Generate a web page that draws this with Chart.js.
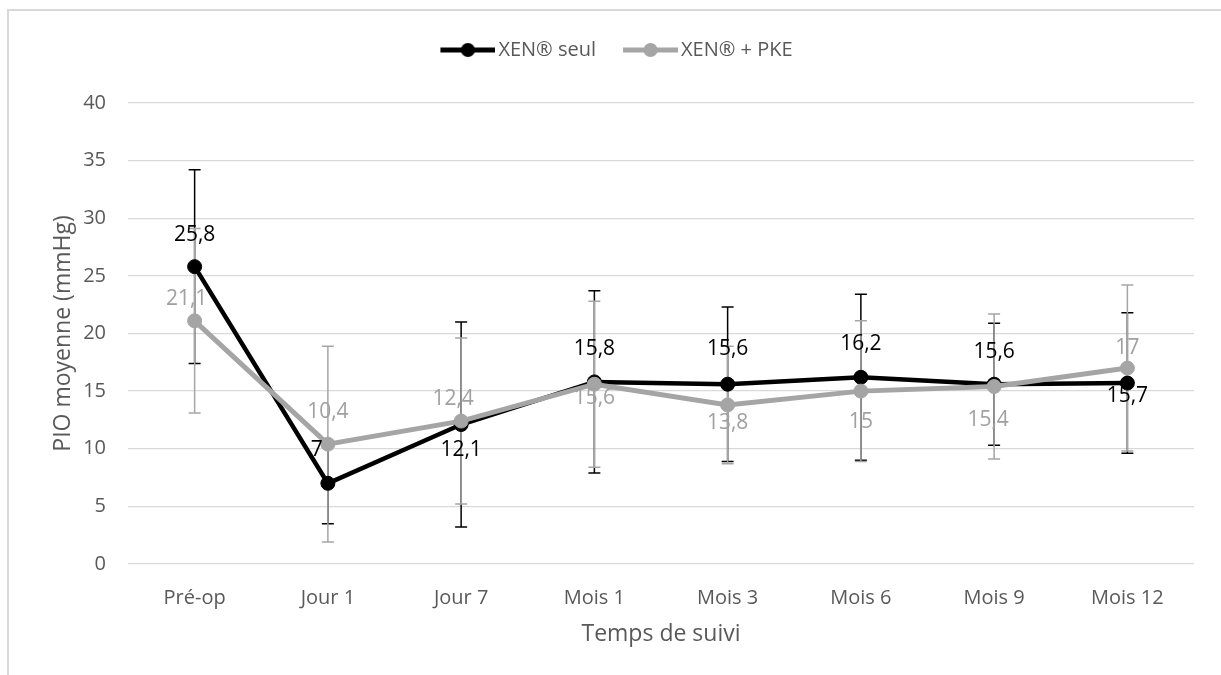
<!DOCTYPE html>
<html>
  <head>
    <meta charset="utf-8" />
    <title>PIO moyenne</title>
    <style>
      body { margin: 0; background: #fff; }
      #wrap { position: relative; width: 1221px; height: 675px; overflow: hidden; }
      #frame { position: absolute; left: 7px; top: 9px; width: 1300px; height: 800px; border: 2px solid #d9d9d9; box-sizing: border-box; }
      canvas { position: absolute; left: 0; top: 0; }
    </style>
  </head>
  <body>
    <div id="wrap">
      <div id="frame"></div>
      <canvas id="chart" width="1221" height="675"></canvas>
    </div>
    <script src="https://cdn.jsdelivr.net/npm/chart.js@4.4.0/dist/chart.umd.min.js"></script>
    <script>
      const labels = ["Pré-op", "Jour 1", "Jour 7", "Mois 1", "Mois 3", "Mois 6", "Mois 9", "Mois 12"];
      const xenSeul = [25.8, 7, 12.1, 15.8, 15.6, 16.2, 15.6, 15.7];
      const xenSeulSd = [8.4, 3.5, 8.9, 7.9, 6.7, 7.2, 5.3, 6.1];
      const xenPke = [21.1, 10.4, 12.4, 15.6, 13.8, 15, 15.4, 17];
      const xenPkeSd = [8, 8.5, 7.2, 7.2, 5.1, 6.1, 6.3, 7.2];
      const yTicks = [0, 5, 10, 15, 20, 25, 30, 35, 40];

      // where each value label sits relative to its point (dx, dy)
      const seulLabelShift = [[0, -32], [-11, -33], [0, 25], [0, -33], [0, -35], [0, -33], [0, -32], [0, 13]];
      const pkeLabelShift = [[-8, -22], [0, -32], [-8, -22], [0, 14], [0, 18], [0, 31], [-6, 34], [0, -20]];

      const BLACK = "#000000";
      const GREY = "#a5a5a5";
      const FONT = "'Open Sans', sans-serif";

      // line + marker swatch for the legend
      function legendSwatch(color) {
        const c = document.createElement("canvas");
        c.width = 74;
        c.height = 16;
        const g = c.getContext("2d");
        g.strokeStyle = color;
        g.lineWidth = 5;
        g.beginPath();
        g.moveTo(19, 8);
        g.lineTo(74, 8);
        g.stroke();
        g.fillStyle = color;
        g.beginPath();
        g.arc(46.5, 8, 7, 0, Math.PI * 2);
        g.fill();
        return c;
      }
      const swatches = [legendSwatch(BLACK), legendSwatch(GREY)];
      const sds = [xenSeulSd, xenPkeSd];
      const shifts = [seulLabelShift, pkeLabelShift];
      const labelColors = ["#000000", "#a0a0a0"];

      const errorBars = {
        id: "errorBars",
        beforeDatasetsDraw(chart) {
          const ctx = chart.ctx;
          const y = chart.scales.y;
          chart.data.datasets.forEach((ds, i) => {
            const meta = chart.getDatasetMeta(i);
            ctx.save();
            ctx.strokeStyle = ds.borderColor;
            ctx.lineWidth = 1.5;
            meta.data.forEach((pt, j) => {
              const v = ds.data[j];
              const top = y.getPixelForValue(v + sds[i][j]);
              const bot = y.getPixelForValue(v - sds[i][j]);
              ctx.beginPath();
              ctx.moveTo(pt.x, top);
              ctx.lineTo(pt.x, bot);
              ctx.moveTo(pt.x - 6, top);
              ctx.lineTo(pt.x + 6, top);
              ctx.moveTo(pt.x - 6, bot);
              ctx.lineTo(pt.x + 6, bot);
              ctx.stroke();
            });
            ctx.restore();
          });
        },
      };

      const valueLabels = {
        id: "valueLabels",
        afterDatasetsDraw(chart) {
          const ctx = chart.ctx;
          ctx.save();
          ctx.font = "21px " + FONT;
          ctx.textAlign = "center";
          ctx.textBaseline = "middle";
          chart.data.datasets.forEach((ds, i) => {
            const meta = chart.getDatasetMeta(i);
            ctx.fillStyle = labelColors[i];
            meta.data.forEach((pt, j) => {
              const s = shifts[i][j];
              ctx.fillText(String(ds.data[j]).replace(".", ","), pt.x + s[0], pt.y + s[1]);
            });
          });
          ctx.restore();
        },
      };

      const ctx = document.getElementById("chart").getContext("2d");
      const myChart = new Chart(ctx, {
        type: "line",
        data: {
          labels: labels,
          datasets: [
            {
              label: "XEN® seul",
              data: xenSeul,
              borderColor: BLACK,
              backgroundColor: BLACK,
              borderWidth: 4.5,
              pointRadius: 7,
              pointBorderWidth: 1,
              order: 1,
            },
            {
              label: "XEN® + PKE",
              data: xenPke,
              borderColor: GREY,
              backgroundColor: GREY,
              borderWidth: 5,
              pointRadius: 7,
              pointBorderWidth: 1,
              order: 0,
            },
          ],
        },
        options: {
          responsive: false,
          animation: false,
          layout: { padding: { top: 25, right: 0, left: 0, bottom: 0 } },
          plugins: {
            tooltip: { enabled: false },
            legend: {
              position: "top",
              labels: {
                usePointStyle: true,
                pointStyleWidth: 60,
                padding: 15,
                color: "#595959",
                font: { family: FONT, size: 20 },
                generateLabels(chart) {
                  return chart.data.datasets.map((ds, i) => ({
                    text: ds.label,
                    pointStyle: swatches[i],
                    fontColor: "#595959",
                    datasetIndex: i,
                    lineWidth: 0,
                  }));
                },
              },
            },
          },
          scales: {
            x: {
              offset: true,
              grid: { display: false },
              border: { display: false },
              ticks: { color: "#595959", font: { family: FONT, size: 20 }, padding: 14 },
              title: {
                display: true,
                text: "Temps de suivi",
                color: "#595959",
                font: { family: FONT, size: 23 },
                padding: { top: 0, bottom: 27 },
              },
              afterFit(s) {
                s.height = 111;
                s.paddingRight = 27;
              },
            },
            // empty top axis: only keeps a gap between legend and plot
            xGap: {
              type: "category",
              position: "top",
              grid: { display: false },
              border: { display: false },
              ticks: { display: false },
              afterFit(s) {
                s.height = 33;
              },
            },
            y: {
              min: 0,
              max: 40,
              afterBuildTicks(s) {
                s.ticks = yTicks.map((v) => ({ value: v }));
              },
              grid: { color: "#d9d9d9", lineWidth: 1.3, drawTicks: false },
              border: { display: false },
              ticks: { color: "#595959", font: { family: FONT, size: 20 }, padding: 22 },
              title: {
                display: true,
                text: "PIO moyenne (mmHg)",
                color: "#595959",
                font: { family: FONT, size: 23 },
                padding: { top: 50, bottom: 0 },
              },
              afterFit(s) {
                s.width = 128;
              },
            },
          },
        },
        plugins: [errorBars, valueLabels],
      });
    </script>
  </body>
</html>
